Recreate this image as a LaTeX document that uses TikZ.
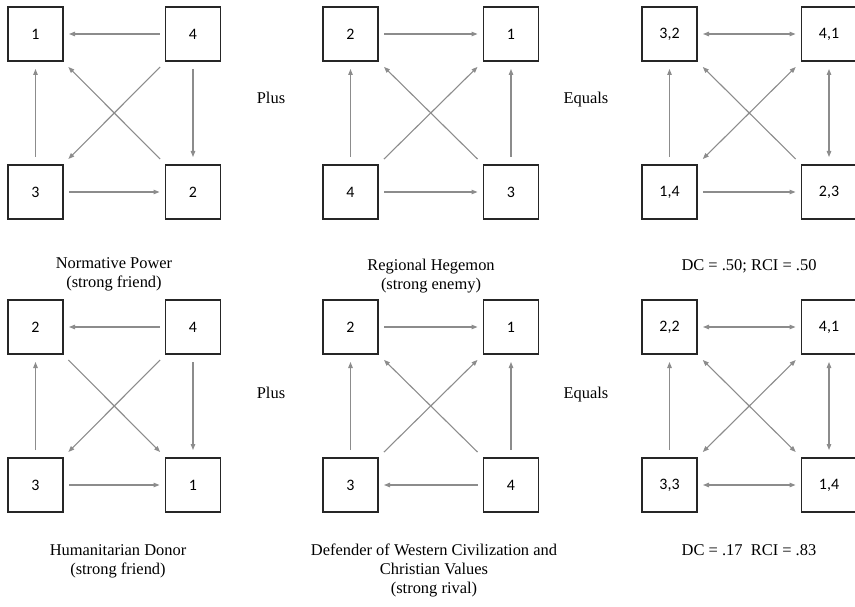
\documentclass[tikz,border=0pt]{standalone}
\usepackage{fontspec}
\setmainfont{Liberation Serif}
\newfontfamily\boxfont{Carlito}
\usetikzlibrary{arrows.meta}
\definecolor{arrcol}{HTML}{8C8C8C}
\definecolor{boxcol}{HTML}{262626}
\begin{document}
\begin{tikzpicture}[x=1bp,y=-1bp,
  cell/.style={draw=boxcol, line width=1.1bp, minimum width=55bp, minimum height=54bp,
    inner sep=0pt, outer sep=6bp, font=\boxfont\fontsize{16}{19}\selectfont},
  rel/.style={draw=arrcol, line width=1.1bp, -{Triangle[length=6bp,width=4.5bp]}},
  both/.style={draw=arrcol, line width=1.1bp, {Triangle[length=6bp,width=4.5bp]}-{Triangle[length=6bp,width=4.5bp]}},
  vert/.style={shorten <=2bp, shorten >=2bp},
  word/.style={font=\fontsize{16.5}{19}\selectfont, anchor=base, inner sep=0pt},
  caption/.style={font=\fontsize{16.5}{19}\selectfont, anchor=north, align=center, inner sep=0pt}]
\useasboundingbox (0,0) rectangle (855,607);

% ---------- top row ----------
% panel 1
\node[cell] (a1) at (35.5,34) {1};
\node[cell] (a4) at (193,34) {4};
\node[cell] (a3) at (35.5,192) {3};
\node[cell] (a2) at (193,192) {2};
\draw[rel] (a4) -- (a1);
\draw[rel,vert] (a3) -- (a1);
\draw[rel] (a4) -- (a3);
\draw[rel] (a2) -- (a1);
\draw[rel,vert] (a4) -- (a2);
\draw[rel] (a3) -- (a2);

\node[word] (plus1) at (271,104) {Plus};

% panel 2
\node[cell] (b2) at (350.5,34) {2};
\node[cell] (b1) at (511,34) {1};
\node[cell] (b4) at (350.5,192) {4};
\node[cell] (b3) at (511,192) {3};
\draw[rel] (b2) -- (b1);
\draw[rel,vert] (b4) -- (b2);
\draw[rel] (b4) -- (b1);
\draw[rel] (b3) -- (b2);
\draw[rel,vert] (b3) -- (b1);
\draw[rel] (b4) -- (b3);

\node[word] (eq1) at (586,104) {Equals};

% panel 3
\node[cell] (c32) at (669.5,34) {3,2};
\node[cell] (c41) at (829,34) {4,1};
\node[cell] (c14) at (669.5,192) {1,4};
\node[cell] (c23) at (829,192) {2,3};
\draw[both] (c32) -- (c41);
\draw[rel,vert] (c14) -- (c32);
\draw[both] (c14) -- (c41);
\draw[rel] (c23) -- (c32);
\draw[both,vert] (c41) -- (c23);
\draw[rel] (c14) -- (c23);

% captions top
\node[caption] (capa) at (114,257) {Normative Power\\(strong friend)};
\node[caption] (capb) at (431,259) {Regional Hegemon\\(strong enemy)};
\node[caption] (capc) at (749,259) {DC = .50; RCI = .50};

% ---------- bottom row ----------
% panel 4
\node[cell] (d2) at (35.5,327) {2};
\node[cell] (d4) at (193,327) {4};
\node[cell] (d3) at (35.5,485) {3};
\node[cell] (d1) at (193,485) {1};
\draw[rel] (d4) -- (d2);
\draw[rel,vert] (d3) -- (d2);
\draw[rel] (d2) -- (d1);
\draw[rel] (d4) -- (d3);
\draw[rel,vert] (d4) -- (d1);
\draw[rel] (d3) -- (d1);

\node[word] (plus2) at (271,398) {Plus};

% panel 5
\node[cell] (e2) at (350.5,327) {2};
\node[cell] (e1) at (511,327) {1};
\node[cell] (e3) at (350.5,485) {3};
\node[cell] (e4) at (511,485) {4};
\draw[rel] (e2) -- (e1);
\draw[rel,vert] (e3) -- (e2);
\draw[rel] (e3) -- (e1);
\draw[rel] (e4) -- (e2);
\draw[rel,vert] (e4) -- (e1);
\draw[rel] (e4) -- (e3);

\node[word] (eq2) at (586,398) {Equals};

% panel 6
\node[cell] (f22) at (669.5,327) {2,2};
\node[cell] (f41) at (829,327) {4,1};
\node[cell] (f33) at (669.5,485) {3,3};
\node[cell] (f14) at (829,485) {1,4};
\draw[both] (f22) -- (f41);
\draw[rel,vert] (f33) -- (f22);
\draw[both] (f22) -- (f14);
\draw[both] (f33) -- (f41);
\draw[both,vert] (f41) -- (f14);
\draw[both] (f33) -- (f14);

% captions bottom
\node[caption] (capd) at (118,544) {Humanitarian Donor\\(strong friend)};
\node[caption] (cape) at (434,544) {Defender of Western Civilization and\\Christian Values\\(strong rival)};
\node[caption] (capf) at (749,544) {DC = .17\ \ RCI = .83};
\end{tikzpicture}
\end{document}
